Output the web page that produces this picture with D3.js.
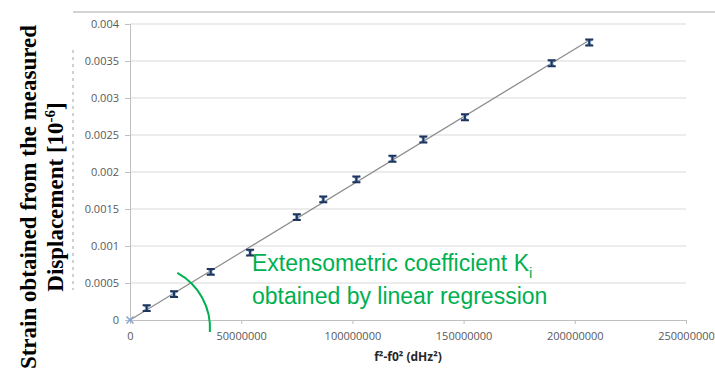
<!DOCTYPE html>
<html>
<head>
<meta charset="utf-8">
<script src="https://cdn.jsdelivr.net/npm/d3@7"></script>
<style>
  body { margin: 0; background: #fff; }
  svg { display: block; }
</style>
</head>
<body>
<div id="chart"></div>
<script>
// values
var freqDiff = [0, 7500000, 19800000, 36300000, 54000000, 75000000, 86900000,
    101800000, 118000000, 131900000, 150600000, 189600000, 206500000];
var strain = [0, 0.00016, 0.00035, 0.00065, 0.00091, 0.00139, 0.00163,
    0.0019, 0.00218, 0.00244, 0.00274, 0.00347, 0.00375];
var strainErr = [0, 0.00004, 0.00004, 0.00004, 0.00004, 0.00004, 0.00004,
    0.00004, 0.00004, 0.00004, 0.00004, 0.00004, 0.00004];
var xTicks = [0, 50000000, 100000000, 150000000, 200000000, 250000000];
var yTicks = [0, 0.0005, 0.001, 0.0015, 0.002, 0.0025, 0.003, 0.0035, 0.004];

var W = 715, H = 372;
var svg = d3.select("#chart").append("svg")
    .attr("width", W)
    .attr("height", H);

var x = d3.scaleLinear().domain([0, 250000000]).range([130, 686]);
var y = d3.scaleLinear().domain([0, 0.004]).range([320, 24]);

// top border line + leftover of old axis title
svg.append("line")
    .attr("x1", 73).attr("x2", W).attr("y1", 12).attr("y2", 12)
    .attr("stroke", "#c4c4c4").attr("stroke-width", 1.5);
svg.append("line")
    .attr("x1", 73).attr("x2", 73).attr("y1", 50).attr("y2", 290)
    .attr("stroke", "#8a8a8a").attr("stroke-width", 0.8)
    .attr("stroke-dasharray", "3,4");

// gridlines
svg.append("g")
    .selectAll("line")
    .data(yTicks.slice(1))
    .enter().append("line")
    .attr("x1", x(0)).attr("x2", x(250000000))
    .attr("y1", function(d) { return y(d); })
    .attr("y2", function(d) { return y(d); })
    .attr("stroke", "#d9d9d9").attr("stroke-width", 1);

// axes
var yAxis = svg.append("g")
    .attr("transform", "translate(" + x(0) + ",0)")
    .call(d3.axisLeft(y).tickValues(yTicks).tickSize(5).tickPadding(6)
        .tickFormat(function(d) { return d === 0 ? "0" : String(+d.toFixed(4)); }));
var xAxis = svg.append("g")
    .attr("transform", "translate(0," + y(0) + ")")
    .call(d3.axisBottom(x).tickValues(xTicks).tickSize(4).tickPadding(8)
        .tickFormat(function(d) { return String(d); }));

[yAxis, xAxis].forEach(function(a) {
    a.select(".domain").attr("stroke", "#bfbfbf");
    a.selectAll(".tick line").attr("stroke", "#bfbfbf");
    a.selectAll("text")
        .attr("fill", "#595959")
        .style("font-family", "'Open Sans', sans-serif")
        .style("font-size", "11px");
});

// regression line through origin
var sxy = d3.sum(freqDiff, function(d, i) { return d * strain[i]; });
var sxx = d3.sum(freqDiff, function(d) { return d * d; });
var slope = sxy / sxx;
var xMax = d3.max(freqDiff);
svg.append("line")
    .attr("x1", x(0)).attr("y1", y(0))
    .attr("x2", x(xMax)).attr("y2", y(slope * xMax))
    .attr("stroke", "#8c8c8c").attr("stroke-width", 1.2);

// points with error bars
var pts = svg.append("g")
    .selectAll("g")
    .data(freqDiff.map(function(d, i) { return { f: d, s: strain[i], e: strainErr[i] }; }))
    .enter().append("g")
    .attr("transform", function(d) { return "translate(" + x(d.f) + "," + y(d.s) + ")"; });

pts.append("path")
    .attr("d", "M-3.5,-3.5L3.5,3.5M-3.5,3.5L3.5,-3.5")
    .attr("stroke", "#7ea6d8").attr("stroke-width", 1.5);

pts.filter(function(d) { return d.e > 0; })
    .append("path")
    .attr("d", function(d) {
        var h = y(0) - y(d.e);
        return "M-4," + (-h) + "H4M-4," + h + "H4M0," + (-h) + "V" + h;
    })
    .attr("stroke", "#1f3559").attr("stroke-width", 2);

// axis titles
svg.append("text")
    .attr("x", 408).attr("y", 361)
    .attr("text-anchor", "middle")
    .style("font-family", "'Open Sans', sans-serif")
    .style("font-size", "12px")
    .style("font-weight", "bold")
    .attr("fill", "#262626")
    .text("f²-f0² (dHz²)");

var yTitle = svg.append("text")
    .attr("transform", "translate(36,197) rotate(-90)")
    .attr("text-anchor", "middle")
    .style("font-family", "'Liberation Serif', 'Times New Roman', serif")
    .style("font-size", "23px")
    .style("font-weight", "bold")
    .attr("fill", "#000");
yTitle.append("tspan").attr("x", 0).attr("y", 0).text("Strain obtained from the measured");
var l2 = yTitle.append("tspan").attr("x", 0).attr("y", 27).text("Displacement [10");
l2.append("tspan").attr("dy", -8).style("font-size", "15px").text("-6");
l2.append("tspan").attr("dy", 8).text("]");

// green annotation
var note = svg.append("text")
    .style("font-family", "'Liberation Sans', Arial, sans-serif")
    .style("font-size", "23px")
    .attr("fill", "#00b050");
var n1 = note.append("tspan").attr("x", 252).attr("y", 271).text("Extensometric coefficient K");
n1.append("tspan").attr("dy", 7).style("font-size", "15px").text("i");
note.append("tspan").attr("x", 252).attr("y", 304).text("obtained by linear regression");

var arc = d3.arc()
    .innerRadius(63).outerRadius(63)
    .startAngle(Math.PI * 0.16).endAngle(Math.PI * 0.52);
svg.append("path")
    .attr("transform", "translate(147,328)")
    .attr("d", d3.path ? (function() {
        var p = d3.path();
        var a0 = -Math.PI / 2 + Math.PI * 0.16, a1 = -Math.PI / 2 + Math.PI * 0.52;
        p.arc(0, 0, 63, a0, a1);
        return p.toString();
    })() : arc())
    .attr("fill", "none")
    .attr("stroke", "#00b050").attr("stroke-width", 2);
</script>
</body>
</html>
